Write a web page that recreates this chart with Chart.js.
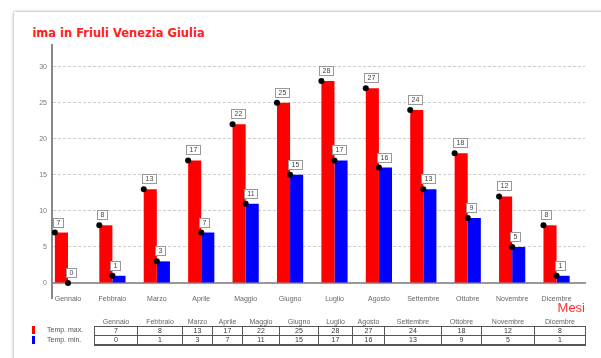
<!DOCTYPE html>
<html>
<head>
<meta charset="utf-8">
<script src="https://cdn.jsdelivr.net/npm/chart.js@4"></script>
<style>
  body { margin: 0; width: 601px; height: 358px; overflow: hidden; background: #fff; position: relative;
         font-family: "Liberation Sans", Arial, sans-serif; }
  #card { position: absolute; left: 14px; top: 12px; width: 620px; height: 400px; background: #fff;
          box-shadow: 0 0 3px rgba(0,0,0,0.45); }
  #title { position: absolute; left: 32px; top: 26px; width: 260px; height: 16px; overflow: hidden; }
  #title span { position: absolute; left: -12px; top: 0; white-space: nowrap; color: #ff2020;
                font-family: "DejaVu Sans", Verdana, sans-serif; font-weight: bold; font-size: 11.5px; }
  #wrap { position: absolute; left: 0; top: 0; width: 601px; height: 318px; }
  #legend { position: absolute; left: 31px; top: 325px; font-size: 7px; color: #555; }
  #legend div { height: 10px; line-height: 10px; position: relative; padding-left: 16px; }
  #legend i { position: absolute; left: 1px; top: 1px; width: 3px; height: 8px; }
  #tbl { position: absolute; left: 94px; top: 316px; border-collapse: collapse; table-layout: fixed;
         font-size: 7px; color: #333; }
  #tbl th { font-weight: normal; color: #666; height: 10px; padding: 0; text-align: center; border: none;
            vertical-align: bottom; line-height: 9px; }
  #tbl td { border: 1px solid #555; height: 8px; line-height: 8px; padding: 0; text-align: center; }
  #tbl tr.last td { border-bottom: 2px solid #555; }
</style>
</head>
<body>
<div id="card"></div>
<div id="title"><span>Clima in Friuli Venezia Giulia</span></div>
<div id="wrap"><canvas id="chart"></canvas></div>
<div id="legend"></div>
<table id="tbl"></table>
<script>
const months = ['Gennaio', 'Febbraio', 'Marzo', 'Aprile', 'Maggio', 'Giugno',
                'Luglio', 'Agosto', 'Settembre', 'Ottobre', 'Novembre', 'Dicembre'];
const tempMax = [7, 8, 13, 17, 22, 25, 28, 27, 24, 18, 12, 8];
const tempMin = [0, 1, 3, 7, 11, 15, 17, 16, 13, 9, 5, 1];
const seriesNames = ['Temp. max.', 'Temp. min.'];
const seriesColors = ['#ff0000', '#0000ff'];
const colWidths = [43, 45, 30, 30, 37, 39, 34, 32, 57, 40, 53, 51];

// dot on the top-left corner of each bar plus a boxed value label
const barMarks = {
  id: 'barMarks',
  afterDatasetsDraw(chart) {
    const ctx = chart.ctx;
    ctx.save();
    chart.data.datasets.forEach((ds, di) => {
      const meta = chart.getDatasetMeta(di);
      meta.data.forEach((bar, i) => {
        const x = bar.x - bar.width / 2;
        const y = bar.y;
        const txt = String(ds.data[i].y);
        ctx.font = '7px "Liberation Sans", Arial, sans-serif';
        const w = Math.round(ctx.measureText(txt).width) + 6;
        const bx = Math.round(x) - 1.5, by = Math.round(y) - 14.5;
        ctx.fillStyle = '#fff';
        ctx.strokeStyle = '#999';
        ctx.lineWidth = 1;
        ctx.fillRect(bx, by, w, 9);
        ctx.strokeRect(bx, by, w, 9);
        ctx.fillStyle = '#444';
        ctx.textAlign = 'center';
        ctx.textBaseline = 'middle';
        ctx.fillText(txt, bx + w / 2, by + 5);
        ctx.fillStyle = '#000';
        ctx.beginPath();
        ctx.arc(x, y, 3, 0, Math.PI * 2);
        ctx.fill();
      });
    });
    // y axis runs on a little below the x axis
    const a = chart.chartArea;
    ctx.strokeStyle = '#888';
    ctx.lineWidth = 2;
    ctx.beginPath();
    ctx.moveTo(a.left, a.bottom);
    ctx.lineTo(a.left, a.bottom + 16);
    ctx.stroke();
    ctx.restore();
  }
};

const toPoints = arr => arr.map((v, i) => ({ x: i, y: v }));

new Chart(document.getElementById('chart'), {
  type: 'bar',
  data: {
    datasets: [
      { label: seriesNames[0], data: toPoints(tempMax), backgroundColor: seriesColors[0] },
      { label: seriesNames[1], data: toPoints(tempMin), backgroundColor: seriesColors[1] }
    ]
  },
  options: {
    responsive: true,
    maintainAspectRatio: false,
    animation: false,
    categoryPercentage: 0.59,
    barPercentage: 1,
    layout: { padding: { left: 0, right: 16, top: 45, bottom: 0 } },
    plugins: { legend: { display: false }, tooltip: { enabled: false } },
    scales: {
      x: {
        type: 'linear',
        offset: false,
        min: -0.36,
        max: 11.64,
        afterBuildTicks: s => { s.ticks = months.map((m, i) => ({ value: i })); },
        afterFit: s => { s.height = 35; },
        grid: { display: false, offset: false },
        border: { color: '#999', width: 2 },
        ticks: {
          autoSkip: false,
          maxRotation: 0,
          padding: 4,
          color: '#666',
          font: { size: 7 },
          callback: v => months[v]
        },
        title: {
          display: true, text: 'Mesi', align: 'end', color: '#ff3030',
          font: { size: 13 }, padding: { top: 0, bottom: 2 }
        }
      },
      y: {
        min: 0,
        max: 33,
        afterFit: s => { s.width = 52; },
        grid: {
          drawTicks: false,
          color: c => (c.tick.value > 0 && c.tick.value % 5 === 0) ? '#cfcfcf' : 'rgba(0,0,0,0)'
        },
        border: { color: '#888', width: 2, dash: [3, 2] },
        ticks: {
          stepSize: 5,
          padding: 5,
          color: '#777',
          font: { size: 7 },
          callback: v => v % 5 === 0 ? v : ''
        }
      }
    }
  },
  plugins: [barMarks]
});

// legend keys next to the data table
const legend = document.getElementById('legend');
seriesNames.forEach((name, k) => {
  const row = document.createElement('div');
  row.innerHTML = '<i style="background:' + seriesColors[k] + '"></i>' + name;
  legend.appendChild(row);
});

// data table under the chart
const tbl = document.getElementById('tbl');
const cg = document.createElement('colgroup');
colWidths.forEach(w => {
  const c = document.createElement('col');
  c.style.width = w + 'px';
  cg.appendChild(c);
});
tbl.appendChild(cg);
const head = tbl.insertRow();
months.forEach(m => { const th = document.createElement('th'); th.textContent = m; head.appendChild(th); });
[tempMax, tempMin].forEach((vals, k) => {
  const tr = tbl.insertRow();
  if (k === 1) tr.className = 'last';
  vals.forEach(v => { tr.insertCell().textContent = v; });
});
</script>
</body>
</html>
